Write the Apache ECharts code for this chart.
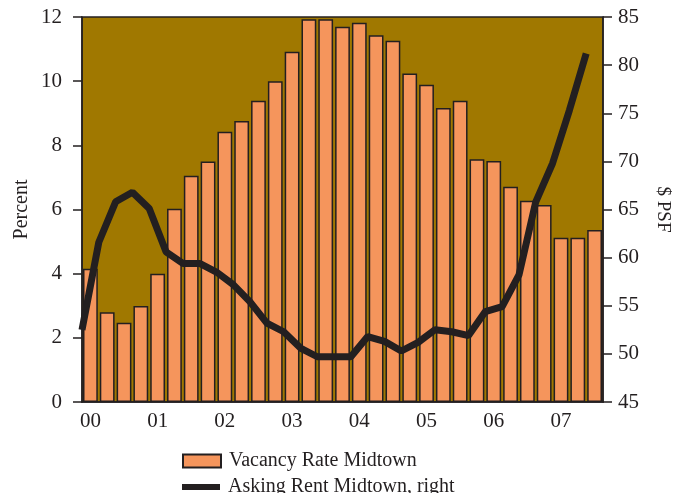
<!DOCTYPE html>
<html>
<head>
<meta charset="utf-8">
<script src="https://cdn.jsdelivr.net/npm/echarts@6/dist/echarts.min.js"></script>
<style>
  html, body { margin: 0; padding: 0; background: #fff; }
  #chart { width: 683px; height: 493px; }
</style>
</head>
<body>
<div id="chart"></div>
<script>
// years shown on the axis, one bar per quarter
const years = ['00', '01', '02', '03', '04', '05', '06', '07']
const quarters = []
years.forEach(y => ['Q1', 'Q2', 'Q3', 'Q4'].forEach(q => quarters.push(y + ' ' + q)))
quarters.length = 31 // data runs to 07 Q3

// vacancy rate, percent (left axis)
const vacancy = [4.15, 2.8, 2.47, 2.99, 4.0, 6.02, 7.05, 7.5, 8.42, 8.76, 9.39, 10.0, 10.92,
    11.93, 11.93, 11.7, 11.82, 11.43, 11.26, 10.24, 9.89, 9.16, 9.39, 7.57, 7.51, 6.71,
    6.27, 6.14, 5.12, 5.12, 5.36]

// asking rent, $ PSF (right axis), measured at the start of each quarter
const rent = [52.5, 61.6, 65.8, 66.8, 65.1, 60.6, 59.4, 59.4, 58.5, 57.2, 55.4, 53.2, 52.3,
    50.6, 49.7, 49.7, 49.7, 51.8, 51.3, 50.3, 51.2, 52.5, 52.3, 51.9, 54.4, 54.9, 58.2,
    65.8, 69.8, 75.3, 81.2]

const leftTicks = {min: 0, max: 12, interval: 2}
const rightTicks = {min: 45, max: 85, interval: 5}

const ink = '#231f20'
const font = 'Liberation Serif'

// line points sit on the quarter boundaries, so give them their own axis
const boundaries = quarters.concat([''])

var chartDom = document.getElementById('chart');
var myChart = echarts.init(chartDom);
const legendText = {fontFamily: font, fontSize: 20, color: ink, padding: [0, 0, 0, 3]}
let option = {
    animation: false,
    textStyle: {fontFamily: font, color: ink},
    grid: {
        left: 82,
        right: 80,
        top: 17,
        bottom: 91,
        show: true,
        backgroundColor: '#a07800',
        borderColor: ink,
        borderWidth: 1.5
    },
    // two legends so each icon can have its own height
    legend: [{
        left: 182,
        top: 451,
        padding: 0,
        itemWidth: 38,
        itemHeight: 13,
        textStyle: legendText,
        data: [{name: 'Vacancy Rate Midtown', icon: 'rect'}]
    }, {
        left: 182,
        top: 477,
        padding: 0,
        itemWidth: 38,
        itemHeight: 6,
        textStyle: legendText,
        data: [{name: 'Asking Rent Midtown, right', icon: 'rect'}]
    }],
    xAxis: [{
        type: 'category',
        data: quarters,
        axisLine: {lineStyle: {color: ink, width: 1.5}},
        axisTick: {interval: 3, length: 6, lineStyle: {color: ink, width: 1.5}},
        axisLabel: {
            interval: 3,
            fontSize: 21,
            color: ink,
            margin: 9,
            formatter: v => v.split(' ')[0]
        }
    }, {
        type: 'category',
        data: boundaries,
        boundaryGap: false,
        show: false,
        position: 'bottom'
    }],
    yAxis: [{
        type: 'value',
        min: leftTicks.min,
        max: leftTicks.max,
        interval: leftTicks.interval,
        name: 'Percent',
        nameLocation: 'middle',
        nameGap: 50,
        nameMoveOverlap: false,
        nameTextStyle: {fontFamily: font, fontSize: 20, color: ink},
        axisLine: {show: true, lineStyle: {color: ink, width: 1.5}},
        axisTick: {show: true, length: 9, lineStyle: {color: ink, width: 1.5}},
        axisLabel: {fontSize: 21, color: ink, margin: 20},
        splitLine: {show: false}
    }, {
        type: 'value',
        position: 'right',
        min: rightTicks.min,
        max: rightTicks.max,
        interval: rightTicks.interval,
        name: '$ PSF',
        nameLocation: 'middle',
        nameRotate: -90,
        nameGap: 50,
        nameTextStyle: {fontFamily: font, fontSize: 19, color: ink},
        axisLine: {show: true, lineStyle: {color: ink, width: 1.5}},
        axisTick: {show: true, length: 9, lineStyle: {color: ink, width: 1.5}},
        axisLabel: {fontSize: 21, color: ink, margin: 15},
        splitLine: {show: false}
    }],
    series: [{
        name: 'Vacancy Rate Midtown',
        type: 'bar',
        xAxisIndex: 0,
        yAxisIndex: 0,
        barCategoryGap: '12%',
        itemStyle: {color: '#f5955c', borderColor: ink, borderWidth: 1.5},
        data: vacancy
    }, {
        name: 'Asking Rent Midtown, right',
        type: 'line',
        xAxisIndex: 1,
        yAxisIndex: 1,
        symbol: 'none',
        z: 5,
        lineStyle: {color: ink, width: 7},
        itemStyle: {color: ink},
        data: rent
    }]
};
option && myChart.setOption(option);
window.addEventListener('resize', () => {
    myChart.resize();
})
</script>
</body>
</html>
